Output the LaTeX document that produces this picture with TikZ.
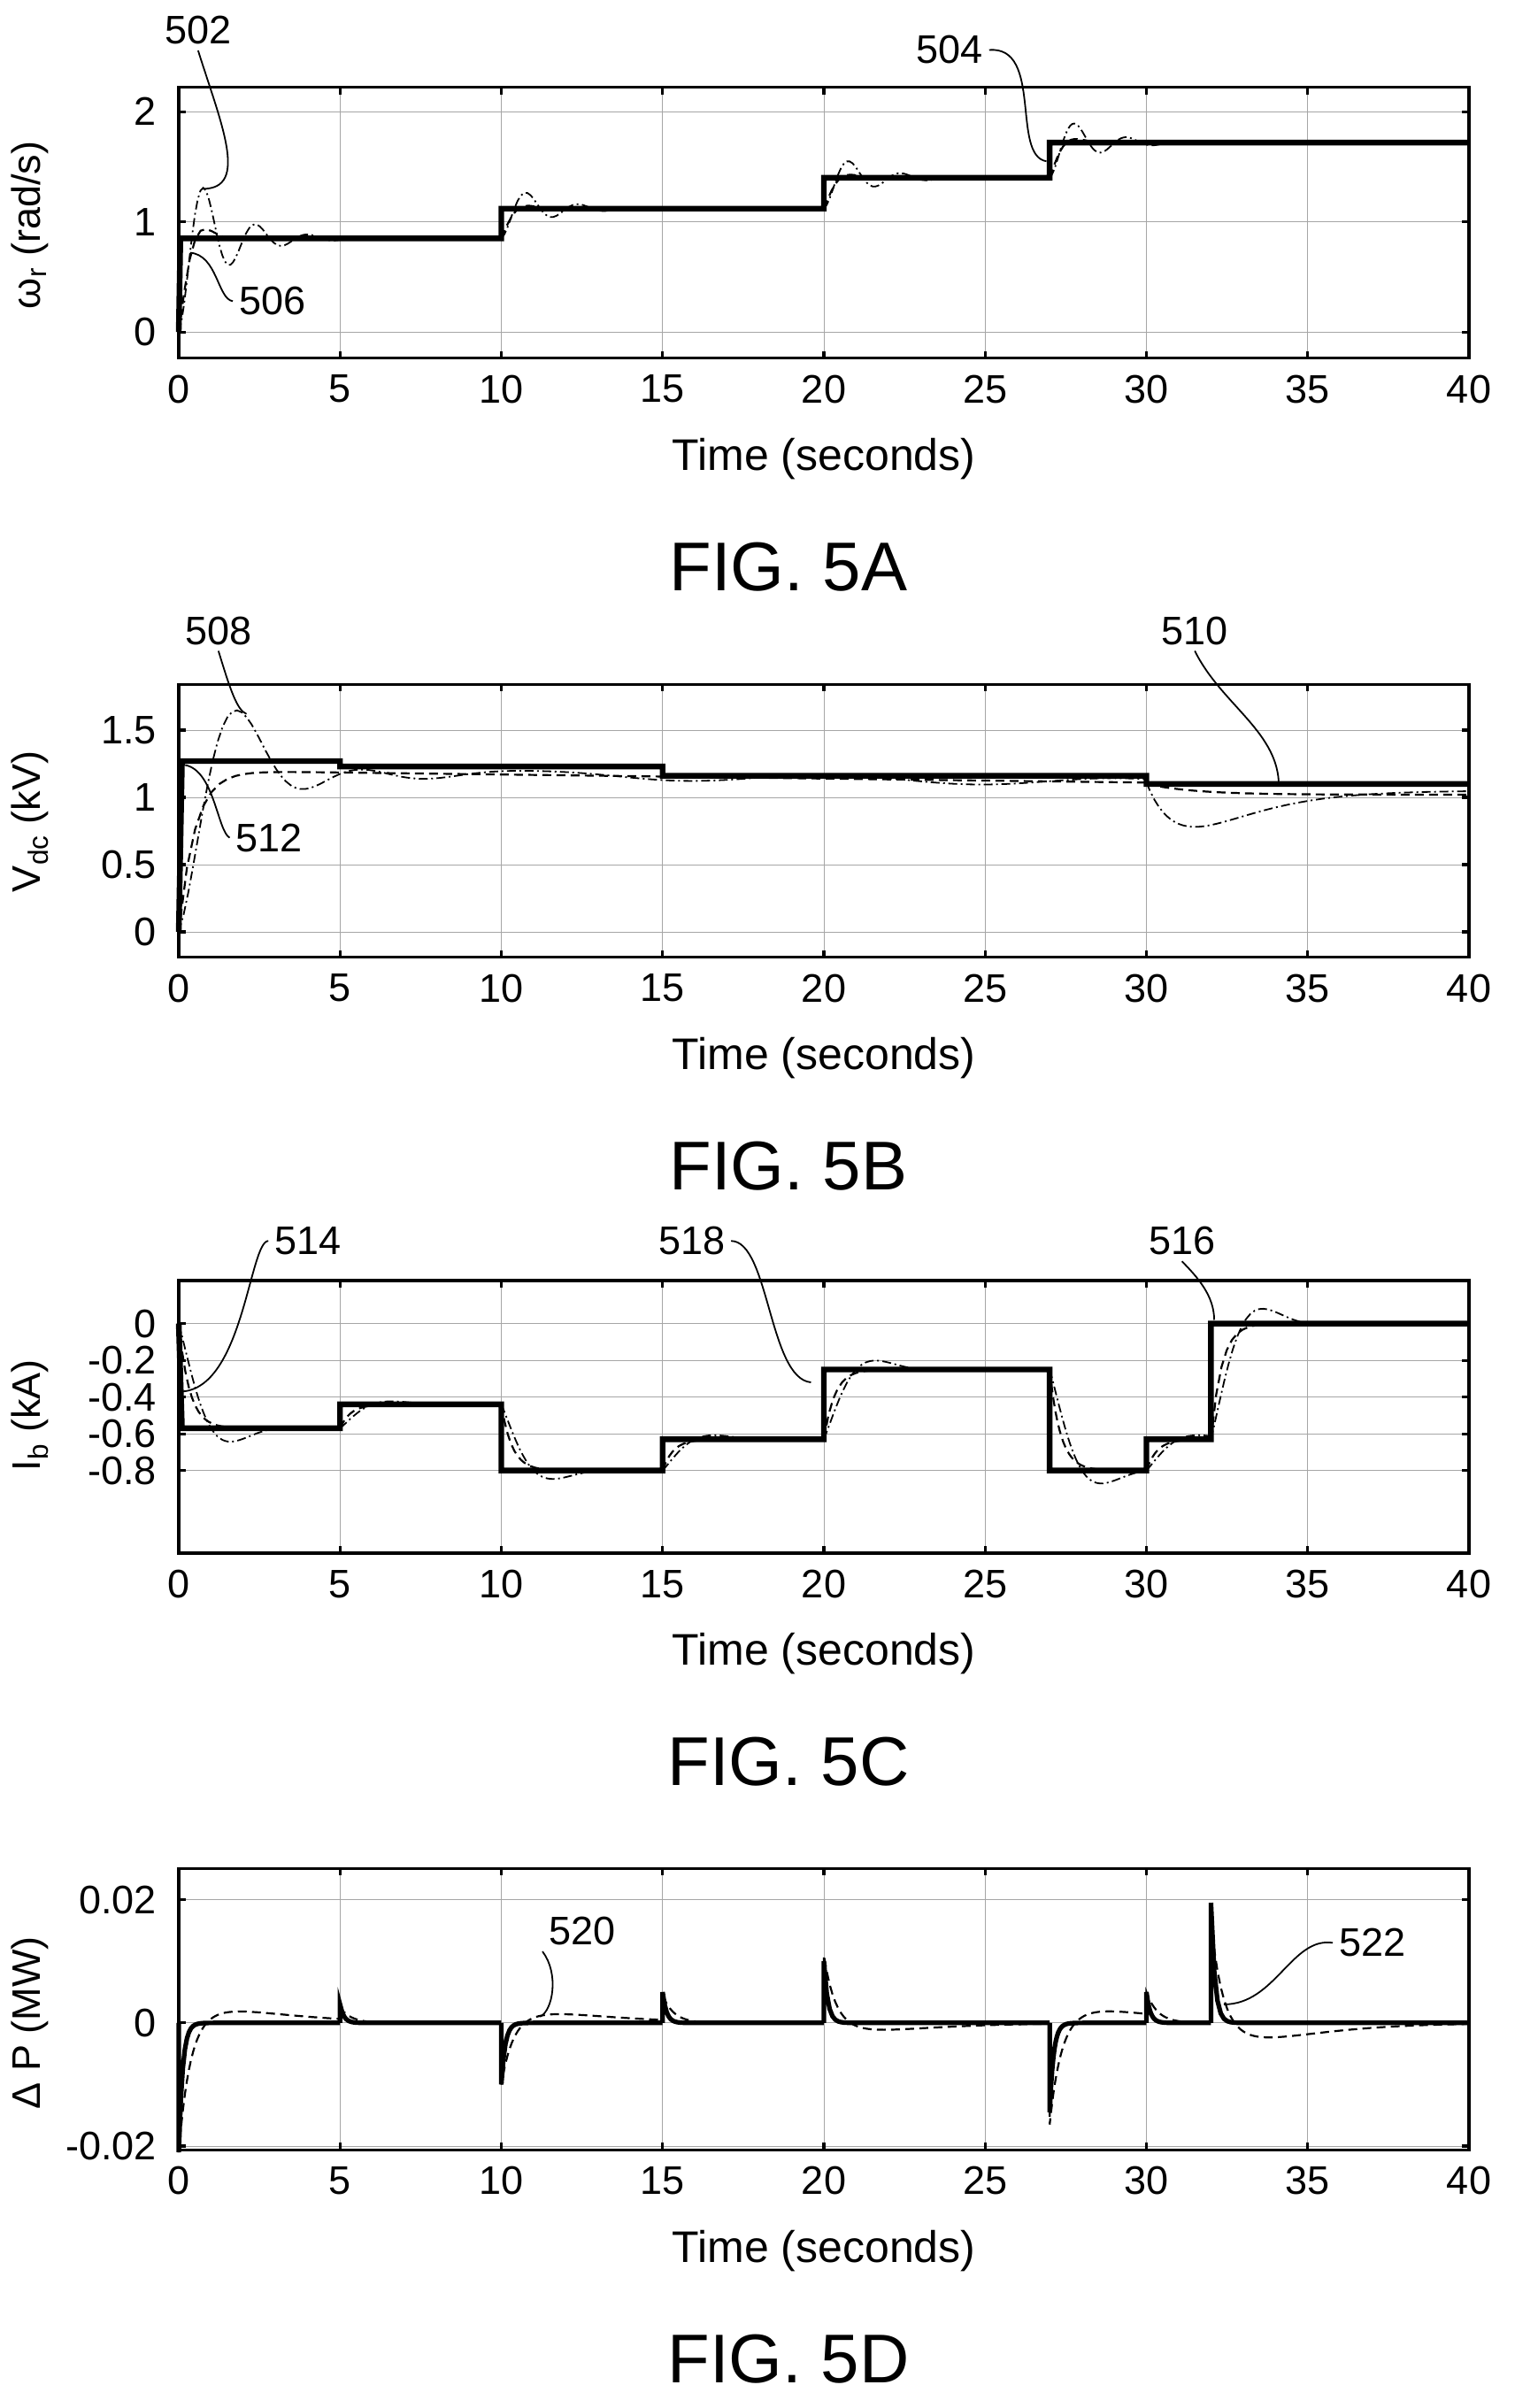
\documentclass[tikz,border=0pt]{standalone}
\usepackage{fontspec}
\setmainfont{Liberation Sans}
\begin{document}
\begin{tikzpicture}[
  tick/.style={font=\fontsize{22.5}{26}\selectfont},
  timel/.style={font=\fontsize{25}{28}\selectfont},
  lbl/.style={font=\fontsize{22.5}{26}\selectfont},
  figl/.style={font=\fontsize{39}{44}\selectfont},
  gridl/.style={gray!70,line width=0.5pt},
  frm/.style={line width=1.6pt},
  stepc/.style={line width=3.2pt},
  ddot/.style={line width=0.9pt,dash pattern=on 5pt off 2pt on 1pt off 2pt},
  dsh/.style={line width=1.1pt,dash pattern=on 5pt off 3pt},
  lead/.style={line width=0.9pt}]
\useasboundingbox (0,0) rectangle (856pt,-1360.5pt);
\newcommand\myframe[4]{% ymin ymax ticks name
  \foreach \t in {5,10,...,35} \draw[gridl] (\t,#1) -- (\t,#2);
  \foreach \v/\s in {#3} {\draw[gridl] (0,\v) -- (40,\v);
    \draw[frm] (0,\v) -- ++(4pt,0) (40,\v) -- ++(-4pt,0);
    \node[tick,anchor=east] (#4y\s) at (-0.5,\v) {\s};}
  \foreach \t in {0,5,...,40} {\draw[frm] (\t,#1) -- ++(0,4pt) (\t,#2) -- ++(0,-4pt);
    \node[tick,anchor=north] (#4x\t) at (\t,#1) [yshift=-6pt] {\t};}
  \draw[frm] (0,#1) rectangle (40,#2);
  \node[timel] (#4time) at (20,#1) [yshift=-57pt] {Time (seconds)};
}
% ---------------- A
\begin{scope}[shift={(101pt,-187.6pt)},x=18.225pt,y=62.25pt]
\myframe{-0.236}{2.22}{0/0,1/1,2/2}{A}
\node[tick,rotate=90] (Aylab) at (-4.6,0.97) {ω\textsubscript{r} (rad/s)};
\node[figl] (Afig) at (18.9,-0.236) [yshift=-118pt] {FIG. 5A};
\draw[ddot] plot[domain=0:10,samples=120] (\x,{0.85-0.85*exp(-0.79*\x)*cos(deg(3.9*\x))});
\draw[ddot] plot[domain=10:20,samples=100] (\x,{1.12-0.27*exp(-0.79*(\x-10))*cos(deg(3.9*(\x-10)))});
\draw[ddot] plot[domain=20:27,samples=80] (\x,{1.4-0.28*exp(-0.79*(\x-20))*cos(deg(3.9*(\x-20)))});
\draw[ddot] plot[domain=27:32,samples=80] (\x,{1.72-0.32*exp(-0.79*(\x-27))*cos(deg(3.9*(\x-27)))});
\draw[dsh] plot[domain=0:10,samples=60] (\x,{0.85-0.85*exp(-2.5*\x)*cos(deg(3*\x))});
\draw[dsh] plot[domain=10:20,samples=60] (\x,{1.12-0.27*exp(-2.5*(\x-10))*cos(deg(3*(\x-10)))});
\draw[dsh] plot[domain=20:27,samples=60] (\x,{1.4-0.28*exp(-2.5*(\x-20))*cos(deg(3*(\x-20)))});
\draw[dsh] plot[domain=27:32,samples=60] (\x,{1.72-0.32*exp(-2.5*(\x-27))*cos(deg(3*(\x-27)))});
\draw[stepc] (0,0) -- (0.05,0.85) -- (10,0.85) -- (10,1.12) -- (20,1.12) -- (20,1.4) -- (27,1.4) -- (27,1.72) -- (40,1.72);
\node[lbl] (L502) at (0.6,2.74) {502};
\coordinate (P502) at (0.75,1.3);
\draw[lead] (L502.south) .. controls (1.3,1.9) and (2.2,1.3) .. (P502);
\node[lbl] (L506) at (2.9,0.28) {506};
\coordinate (P506) at (0.35,0.72);
\draw[lead] (L506.west) .. controls (1.2,0.3) and (1.2,0.7) .. (P506);
\node[lbl] (L504) at (23.9,2.56) {504};
\coordinate (P504) at (26.9,1.55);
\draw[lead] (L504.east) .. controls (26.8,2.6) and (25.8,1.6) .. (P504);
\end{scope}
% ---------------- B
\begin{scope}[shift={(101pt,-526.5pt)},x=18.225pt,y=76pt]
\myframe{-0.19}{1.84}{0/0,0.5/0.5,1/1,1.5/1.5}{B}
\node[tick,rotate=90] (Bylab) at (-4.6,0.82) {V\textsubscript{dc} (kV)};
\node[figl] (Bfig) at (18.9,-0.19) [yshift=-118pt] {FIG. 5B};
\draw[ddot] plot[domain=0:30,samples=200] (\x,{1.2-0.003*\x-1.2*exp(-0.55*\x)*cos(deg(1.57*\x))+0.03*sin(deg(0.7*\x))});
\draw[ddot] plot[domain=30:40,samples=80] (\x,{1.05+0.06*exp(-(\x-30))-0.55*(\x-30)*exp(-(\x-30)/1.4)});
\draw[dsh] plot[domain=0:30,samples=120] (\x,{1.2-0.003*\x-1.2*exp(-2*\x)});
\draw[dsh] plot[domain=30:40,samples=60] (\x,{1.02+0.08*exp(-(\x-30)/1.5)});
\draw[stepc] (0,0) -- (0.1,1.27) -- (5,1.27) -- (5,1.23) -- (15,1.23) -- (15,1.16) -- (30,1.16) -- (30,1.1) -- (40,1.1);
\node[lbl] (L508) at (1.23,2.24) {508};
\coordinate (P508) at (2.1,1.62);
\draw[lead] (L508.south) .. controls (1.6,1.8) and (1.8,1.65) .. (P508);
\node[lbl] (L512) at (2.8,0.7) {512};
\coordinate (P512) at (0.2,1.24);
\draw[lead] (L512.west) .. controls (1.2,0.75) and (1.1,1.2) .. (P512);
\node[lbl] (L510) at (31.5,2.24) {510};
\coordinate (P510) at (34.1,1.12);
\draw[lead] (L510.south) .. controls (32.3,1.7) and (34,1.5) .. (P510);
\end{scope}
% ---------------- C
\begin{scope}[shift={(101pt,-747.8pt)},x=18.225pt,y=103.75pt]
\myframe{-1.25}{0.234}{0/0,-0.2/-0.2,-0.4/-0.4,-0.6/-0.6,-0.8/-0.8}{C}
\node[tick,rotate=90] (Cylab) at (-4.6,-0.5) {I\textsubscript{b} (kA)};
\node[figl] (Cfig) at (18.9,-1.25) [yshift=-118pt] {FIG. 5C};
\foreach \ta/\tb/\vo/\vn in {0/5/0/-0.57,5/10/-0.57/-0.44,10/15/-0.44/-0.8,15/20/-0.8/-0.63,20/27/-0.63/-0.25,27/30/-0.25/-0.8,30/32/-0.8/-0.63,32/40/-0.63/0}{
  \draw[ddot] plot[domain=\ta:\tb,samples=60] (\x,{\vn+(\vo-\vn)*exp(-1.15*(\x-\ta))*cos(deg(1.57*(\x-\ta)))});
  \draw[dsh] plot[domain=\ta:\tb,samples=50] (\x,{\vn+(\vo-\vn)*exp(-3*(\x-\ta))});
}
\draw[stepc] (0,0) -- (0.1,-0.57) -- (5,-0.57) -- (5,-0.44) -- (10,-0.44) -- (10,-0.8) -- (15,-0.8) -- (15,-0.63) -- (20,-0.63) -- (20,-0.25) -- (27,-0.25) -- (27,-0.8) -- (30,-0.8) -- (30,-0.63) -- (32,-0.63) -- (32,0) -- (40,0);
\node[lbl] (L514) at (4.0,0.45) {514};
\coordinate (P514) at (0.1,-0.37);
\draw[lead] (L514.west) .. controls (2.2,0.45) and (2,-0.35) .. (P514);
\node[lbl] (L518) at (15.9,0.45) {518};
\coordinate (P518) at (19.6,-0.32);
\draw[lead] (L518.east) .. controls (18.3,0.45) and (18.3,-0.3) .. (P518);
\node[lbl] (L516) at (31.1,0.45) {516};
\coordinate (P516) at (32.1,0.02);
\draw[lead] (L516.south) .. controls (31.6,0.25) and (32.1,0.15) .. (P516);
\end{scope}
% ---------------- D
\begin{scope}[shift={(101pt,-1142.9pt)},x=18.225pt,y=34.8pt]
\myframe{-2.06}{2.51}{0/0,2/0.02,-2/-0.02}{D}
\node[tick,rotate=90] (Dylab) at (-4.6,0) {Δ P (MW)};
\node[figl] (Dfig) at (18.9,-2.06) [yshift=-118pt] {FIG. 5D};
\foreach \ta/\tb/\A/\B in {0/5/-2.1/0.2,5/10/0.25/0,10/15/-1.0/0.15,15/20/0.45/0,20/27/1.1/-0.12,27/30/-1.65/0.2,30/32/0.5/0,32/40/1.65/-0.25}{
  \draw[dsh] (\ta,0) -- plot[domain=\ta:\tb,samples=80] (\x,{\A*exp(-(\x-\ta)/0.35)+\B*((\x-\ta)/1.5)*exp(1-(\x-\ta)/1.5)});
}
\foreach \ta/\tb/\A in {0/5/-2.1,5/10/0.3,10/15/-1.0,15/20/0.5,20/27/1.0,27/30/-1.45,30/32/0.5,32/40/1.95}{
  \draw[stepc,line width=2.6pt] (\ta,0) -- plot[domain=\ta:\tb,samples=80] (\x,{\A*exp(-(\x-\ta)/0.12)});
}
\node[lbl] (L520) at (12.5,1.49) {520};
\coordinate (P520) at (11.2,0.1);
\draw[lead] (L520.south west) .. controls (11.8,0.8) and (11.6,0.2) .. (P520);
\node[lbl] (L522) at (37.0,1.3) {522};
\coordinate (P522) at (32.4,0.3);
\draw[lead] (L522.west) .. controls (34.5,1.4) and (34,0.3) .. (P522);
\end{scope}
\end{tikzpicture}
\end{document}
